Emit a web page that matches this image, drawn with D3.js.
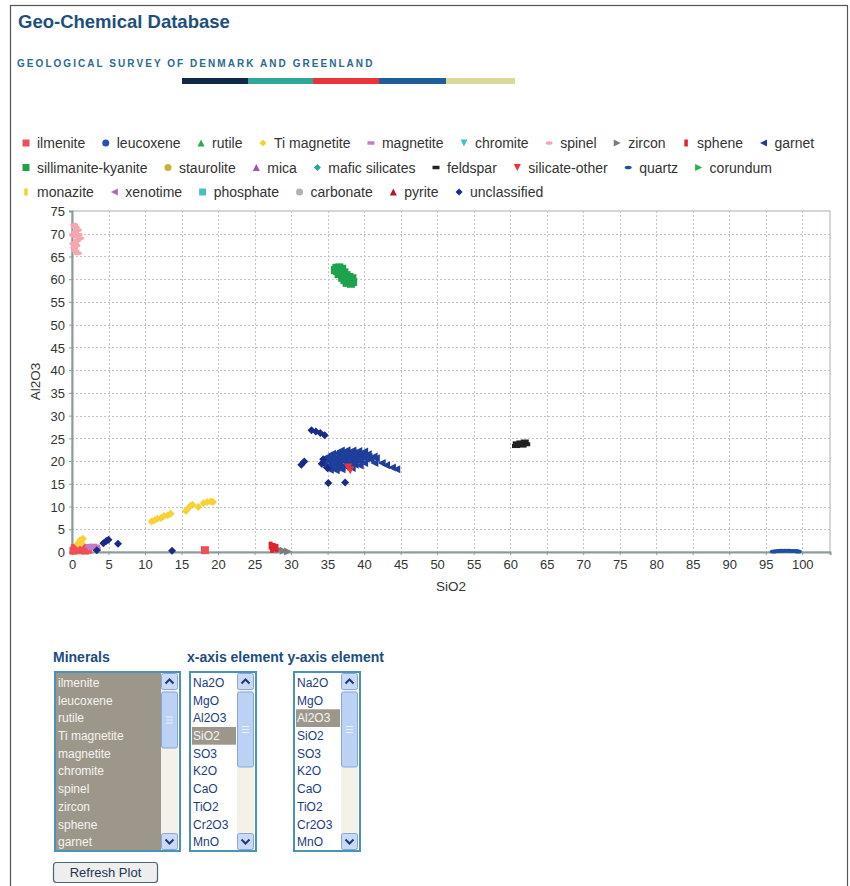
<!DOCTYPE html>
<html><head><meta charset="utf-8">
<script src="https://cdn.jsdelivr.net/npm/d3@7"></script>
<style>
html,body{margin:0;padding:0;background:#fff;}
svg{display:block;font-family:"Liberation Sans",Arial,sans-serif;}
</style></head><body>
<svg id="page" width="850" height="886"></svg>
<script>
// ---- categories ----
const minerals = ["ilmenite","leucoxene","rutile","Ti magnetite","magnetite","chromite","spinel","zircon","sphene","garnet",
  "sillimanite-kyanite","staurolite","mica","mafic silicates","feldspar","silicate-other","quartz","corundum",
  "monazite","xenotime","phosphate","carbonate","pyrite","unclassified"];
const elements = ["Na2O","MgO","Al2O3","SiO2","SO3","K2O","CaO","TiO2","Cr2O3","MnO"];
const xTicks = [0,5,10,15,20,25,30,35,40,45,50,55,60,65,70,75,80,85,90,95,100];
const yTicks = [0,5,10,15,20,25,30,35,40,45,50,55,60,65,70,75];

// ---- analyses: [SiO2 wt%, Al2O3 wt%] ----
const ilmenite = [[0.2,0.3],[0.6,0.5],[1.0,0.4],[1.4,0.6],[1.8,0.3],[2.2,0.5],[0.4,0.9],[1.2,1.0],[2.0,0.9],[18.2,0.4]];
const leucoxene = [];
const rutile = [];
const tiMagnetite = [[0.8,1.8],[1.1,2.6],[1.5,2.9],[1.3,2.0],[10.9,6.7],[11.3,7.0],[11.7,7.3],[12.2,7.5],[12.6,7.9],
  [13.1,8.1],[13.5,8.4],[15.6,9.0],[15.9,9.6],[16.2,10.1],[16.5,10.4],[17.3,9.9],[18.0,10.7],[18.5,11.0],[19.0,11.1],[19.3,11.0]];
const magnetite = [[2.4,1.3],[2.9,1.4],[3.3,1.2],[2.7,0.8],[3.4,0.7]];
const chromite = [];
const spinel = [[0.3,72.0],[0.5,71.4],[0.8,70.8],[0.4,70.3],[0.9,69.8],[0.6,69.4],[1.1,69.0],[0.7,68.5],[0.4,68.0],
  [0.6,67.4],[0.3,66.9],[0.5,66.2],[0.8,65.7],[0.2,69.6],[0.2,67.8]];
const zircon = [[28.4,0.5],[29.0,0.3],[29.6,0.1]];
const sphene = [[27.2,1.4],[27.6,1.1],[28.0,0.9],[27.4,0.7]];
const garnet = [
  [36.8,22.3],[37.6,22.4],[38.4,22.3],[39.2,22.2],[40.0,22.1],
  [35.6,21.6],[36.3,21.8],[37.0,21.7],[37.7,21.6],[38.4,21.8],[39.1,21.6],[39.8,21.7],[40.5,21.5],
  [35.0,21.0],[35.7,21.1],[36.4,21.0],[37.1,21.2],[37.8,21.0],[38.5,21.1],[39.2,21.0],[39.9,21.1],[40.6,20.9],[41.3,21.0],
  [34.6,20.4],[35.3,20.5],[36.0,20.3],[36.7,20.5],[37.4,20.4],[38.1,20.5],[38.8,20.3],[39.5,20.4],[40.2,20.5],[40.9,20.3],[41.6,20.6],
  [34.4,19.8],[35.1,19.9],[35.8,19.7],[36.5,19.8],[37.2,19.9],[37.9,19.7],[38.6,19.8],[39.3,19.9],[40.0,19.6],[41.4,19.6],
  [34.5,19.2],[35.2,19.1],[35.9,19.3],[36.6,19.2],[37.3,19.1],[38.0,19.3],[38.7,19.2],[39.4,19.0],
  [34.8,18.6],[35.5,18.7],[36.2,18.5],[36.9,18.6],[37.6,18.7],[38.3,18.5],
  [35.3,18.1],[36.1,18.0],[36.9,18.2],
  [42.4,19.6],[43.0,19.1],[43.8,18.6],[44.4,18.2]];
const sillimaniteKyanite = [[36.2,62.5],[36.6,62.6],[37.0,62.3],[36.3,61.8],[36.8,61.7],[37.3,61.5],[36.5,61.1],[37.0,61.0],
  [37.6,60.9],[37.0,60.3],[37.5,60.4],[38.0,60.5],[37.3,59.8],[37.8,59.6],[38.3,59.9],[37.6,59.2],[38.2,59.0],[38.5,59.4],
  [36.0,62.0],[38.4,60.2]];
const staurolite = [];
const mica = [];
const maficSilicates = [];
const feldspar = [[60.8,23.3],[61.2,23.6],[61.6,23.9],[62.0,24.3],[61.4,24.1],[60.9,23.9],[62.2,23.7],[61.7,23.4]];
const silicateOther = [[38.1,18.0],[37.8,18.6]];
const quartz = [[96.1,0.1],[96.6,0.2],[97.1,0.3],[97.6,0.3],[98.1,0.3],[98.6,0.2],[99.1,0.2],[99.4,0.1]];
const corundum = [];
const monazite = [];
const xenotime = [];
const phosphate = [];
const carbonate = [];
const pyrite = [];
const unclassified = [[3.4,0.4],[4.3,1.9],[4.7,2.4],[5.0,2.7],[6.3,1.8],[13.7,0.3],[31.4,19.2],[31.8,19.9],
  [32.8,26.8],[33.4,26.5],[34.0,26.2],[34.6,25.7],[35.1,15.2],[37.4,15.3],[34.4,20.4],[34.2,19.4],[35.0,18.4]];

const seriesData = [ilmenite, leucoxene, rutile, tiMagnetite, magnetite, chromite, spinel, zircon, sphene, garnet,
  sillimaniteKyanite, staurolite, mica, maficSilicates, feldspar, silicateOther, quartz, corundum,
  monazite, xenotime, phosphate, carbonate, pyrite, unclassified];

// ---- series styling ----
const colors = ["#ef4f58","#2a4fae","#2fa650","#f7d236","#c47cc4","#44bfc8","#f6a6ae","#7c7c7c","#e0202e","#1f3f9c",
  "#1ea24c","#c8b232","#a452b6","#22a896","#222222","#e8343e","#1f4ea6","#22b24a",
  "#f7d024","#a76ab8","#44c2c2","#b2b2b2","#b0182a","#1a2a86"];
const shapeCycle = ["square","circle","up","diamond","hrect","down","hellipse","right","vrect","left"];

function markerPath(type, r) {
  const p = d3.path();
  switch (type) {
    case "square": p.rect(-r, -r, 2*r, 2*r); break;
    case "circle": p.arc(0, 0, r, 0, 2*Math.PI); break;
    case "up": p.moveTo(0,-r); p.lineTo(r,r); p.lineTo(-r,r); p.closePath(); break;
    case "down": p.moveTo(0,r); p.lineTo(r,-r); p.lineTo(-r,-r); p.closePath(); break;
    case "right": p.moveTo(-r,-r); p.lineTo(r,0); p.lineTo(-r,r); p.closePath(); break;
    case "left": p.moveTo(r,-r); p.lineTo(-r,0); p.lineTo(r,r); p.closePath(); break;
    case "diamond": p.moveTo(0,-r); p.lineTo(r,0); p.lineTo(0,r); p.lineTo(-r,0); p.closePath(); break;
    case "hrect": p.rect(-r, -r/2, 2*r, r); break;
    case "vrect": p.rect(-r/2, -r, r, 2*r); break;
    case "hellipse": {
      const ry = r/2;
      return `M${-r},0A${r},${ry} 0 1,0 ${r},0A${r},${ry} 0 1,0 ${-r},0Z`;
    }
  }
  return p.toString();
}

const svg = d3.select("#page");

// ---- page frame and header ----
svg.append("rect").attr("x",10.5).attr("y",5.5).attr("width",837).attr("height",900)
  .attr("fill","#fff").attr("stroke","#555").attr("stroke-width",1.2);

svg.append("text").attr("x",18).attr("y",28).text("Geo-Chemical Database")
  .attr("font-size",18.5).attr("font-weight","bold").attr("fill","#1e4f7c");
svg.append("text").attr("x",17).attr("y",67).text("GEOLOGICAL SURVEY OF DENMARK AND GREENLAND")
  .attr("font-size",10).attr("font-weight","bold").attr("letter-spacing","2.05px").attr("fill","#2b6a8d");

const bandColors = ["#0e2a48","#2ea89a","#e8343a","#1f5f96","#d9d99c"];
const bandEdges = [182,248,313,379,446,515];
bandColors.forEach((c,i) => {
  svg.append("rect").attr("x",bandEdges[i]).attr("y",78).attr("width",bandEdges[i+1]-bandEdges[i]).attr("height",6).attr("fill",c);
});

// ---- legend ----
const legend = svg.append("g");
{
  let x = 26, row = 0;
  const rowY = [143, 167.5, 192];
  const maxX = 836, gap = 20.5;
  minerals.forEach((name, i) => {
    const t = legend.append("text").attr("font-size",14).attr("fill","#333").text(name);
    const w = t.node().getComputedTextLength();
    if (x + 11 + w > maxX) { row++; x = 26; }
    const cy = rowY[row];
    legend.append("path").attr("d", markerPath(shapeCycle[i % 10], 3.5))
      .attr("transform", `translate(${x},${cy})`).attr("fill", colors[i]);
    t.attr("x", x + 11).attr("y", cy + 5);
    x = x + 11 + w + gap;
  });
}

// ---- scatter plot ----
const plot = {left:72, right:830, top:211, bottom:552};
const xScale = d3.scaleLinear().domain([0, 103.8]).range([plot.left, plot.right]);
const yScale = d3.scaleLinear().domain([0, 75]).range([plot.bottom, plot.top]);

svg.append("rect").attr("x",plot.left).attr("y",plot.top).attr("width",plot.right-plot.left).attr("height",plot.bottom-plot.top)
  .attr("fill","#fff").attr("stroke","#a8b0b0").attr("stroke-width",1);

// dotted grid
const grid = svg.append("g").attr("stroke","#c4c4c4").attr("stroke-width",1).attr("stroke-dasharray","2,2");
xTicks.filter(v => v > 0).forEach(v => {
  grid.append("line").attr("x1",Math.round(xScale(v))+0.5).attr("x2",Math.round(xScale(v))+0.5)
    .attr("y1",plot.top).attr("y2",plot.bottom);
});
yTicks.filter(v => v > 0 && v < 75).forEach(v => {
  grid.append("line").attr("y1",Math.round(yScale(v))+0.5).attr("y2",Math.round(yScale(v))+0.5)
    .attr("x1",plot.left).attr("x2",plot.right);
});

// axes
const xAxis = d3.axisBottom(xScale).tickValues(xTicks).tickSize(3).tickPadding(5);
const yAxis = d3.axisLeft(yScale).tickValues(yTicks).tickSize(3).tickPadding(4);
const gx = svg.append("g").attr("transform",`translate(0,${plot.bottom})`).call(xAxis);
const gy = svg.append("g").attr("transform",`translate(${plot.left},0)`).call(yAxis);
[gx, gy].forEach(g => {
  g.select(".domain").attr("stroke","#8c9a9a").attr("stroke-width",2);
  g.selectAll(".tick line").attr("stroke","#8c9a9a");
  g.selectAll(".tick text").attr("font-size",13).attr("fill","#333").attr("font-family","Liberation Sans, Arial, sans-serif");
});
gy.selectAll(".tick text").attr("dy","0.36em");

svg.append("text").attr("x",(plot.left+plot.right)/2).attr("y",591).attr("text-anchor","middle")
  .attr("font-size",13.5).attr("fill","#333").text("SiO2");
svg.append("text").attr("transform",`translate(40,${(plot.top+plot.bottom)/2}) rotate(-90)`).attr("text-anchor","middle")
  .attr("font-size",13.5).attr("fill","#333").text("Al2O3");

// points
const pts = svg.append("g");
seriesData.forEach((data, i) => {
  pts.append("g").selectAll("path").data(data).join("path")
    .attr("d", markerPath(shapeCycle[i % 10], 4))
    .attr("transform", d => `translate(${xScale(d[0])},${yScale(d[1])})`)
    .attr("fill", colors[i]);
});

// ---- selection form ----
svg.append("text").attr("x",53).attr("y",662).attr("font-size",14).attr("font-weight","bold").attr("fill","#1c4d80").text("Minerals");
svg.append("text").attr("x",187).attr("y",662).attr("font-size",14).attr("font-weight","bold").attr("fill","#1c4d80")
  .text("x-axis element y-axis element");

function listBox(x, y, w, h, items, selected, thumb) {
  const g = svg.append("g");
  g.append("rect").attr("x",x).attr("y",y).attr("width",w).attr("height",h).attr("fill","#fff")
    .attr("stroke","#4a93b3").attr("stroke-width",2);
  const sbW = 17, sbX = x + w - sbW - 2;
  const rowH = 17.7;
  if (selected === "all") {
    g.append("rect").attr("x",x+1).attr("y",y+1).attr("width",sbX-x-1).attr("height",h-2).attr("fill","#9d978b");
  }
  items.forEach((it, k) => {
    const cy = y + 10.7 + k*rowH;
    const sel = selected === "all" || selected === k;
    if (selected === k) {
      g.append("rect").attr("x",x+2).attr("y",cy-8.8).attr("width",sbX-x-3).attr("height",rowH).attr("fill","#9d978b");
    }
    g.append("text").attr("x",x+3).attr("y",cy+4.2).attr("font-size",12)
      .attr("fill", sel ? "#f4f4f0" : "#1b3c82").text(it);
  });
  // scrollbar
  g.append("rect").attr("x",sbX).attr("y",y+1).attr("width",sbW).attr("height",h-2).attr("fill","#f4f2e8");
  [[y+1,-1],[y+h-18,1]].forEach(([by,dir]) => {
    g.append("rect").attr("x",sbX+0.5).attr("y",by+0.5).attr("width",sbW-1).attr("height",16).attr("rx",2)
      .attr("fill","#c8daf6").attr("stroke","#86a6dc");
    const cx = sbX + sbW/2, cyy = by + 8.5;
    g.append("path").attr("d",`M${cx-4},${cyy-2*dir} L${cx},${cyy+2*dir} L${cx+4},${cyy-2*dir}`)
      .attr("fill","none").attr("stroke","#1d3a7a").attr("stroke-width",2);
  });
  g.append("rect").attr("x",sbX+0.5).attr("y",thumb[0]).attr("width",sbW-1).attr("height",thumb[1]-thumb[0]).attr("rx",2)
    .attr("fill","#bcd2f4").attr("stroke","#86a6dc");
  const mid = (thumb[0]+thumb[1])/2;
  [-3,0,3].forEach(o => g.append("line").attr("x1",sbX+5).attr("x2",sbX+sbW-5).attr("y1",mid+o).attr("y2",mid+o)
    .attr("stroke","#e8f0fc").attr("stroke-width",1));
}
listBox(55, 672, 125, 179, minerals.slice(0,10), "all", [692,748]);
listBox(190, 672, 66, 179, elements, 3, [692,767]);
listBox(294, 672, 66, 179, elements, 2, [692,767]);

const btn = svg.append("g");
btn.append("rect").attr("x",53.5).attr("y",862.5).attr("width",104).attr("height",20).attr("rx",3)
  .attr("fill","#eeeeee").attr("stroke","#4c6478").attr("stroke-width",1.2);
btn.append("text").attr("x",105.5).attr("y",877).attr("text-anchor","middle").attr("font-size",13)
  .attr("fill","#1c3550").text("Refresh Plot");
</script></body></html>
